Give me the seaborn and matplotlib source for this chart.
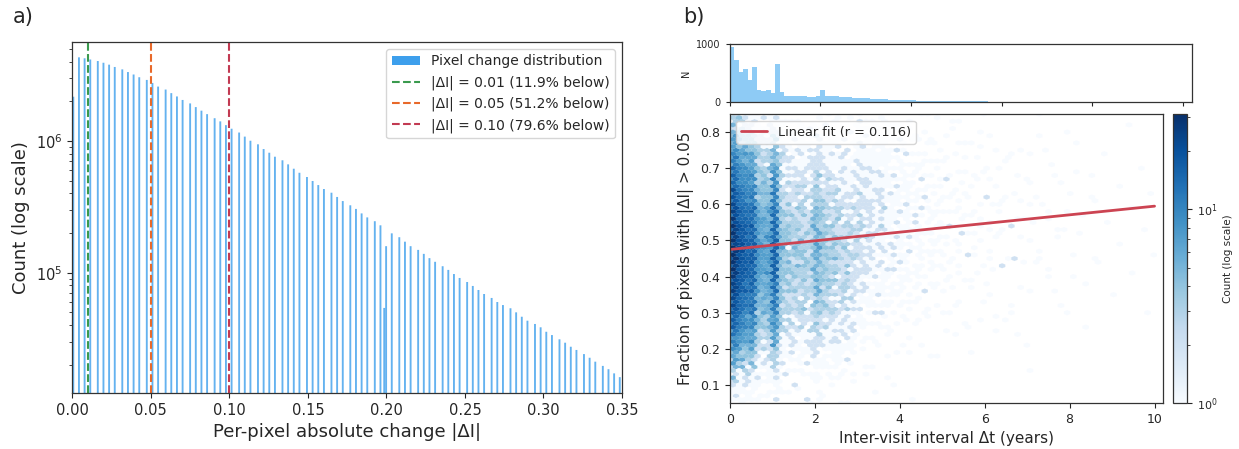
import numpy as np
import pandas as pd
import matplotlib
matplotlib.use("Agg")
import matplotlib.pyplot as plt
from matplotlib.lines import Line2D
from matplotlib.patches import Patch
import seaborn as sns

# ---------------- Panel a data: counts per 8-bit change level ----------------
change_levels_8bit = list(range(90))          # |ΔI| * 255
change_counts = [
    2.17e6, 4.32e6, 4.25e6, 4.16e6, 4.05e6, 3.93e6, 3.80e6, 3.65e6, 3.50e6, 3.34e6,
    3.20e6, 3.05e6, 2.91e6, 2.76e6, 2.59e6, 2.46e6, 2.31e6, 2.18e6, 2.05e6, 1.93e6,
    1.81e6, 1.70e6, 1.60e6, 1.49e6, 1.41e6, 1.32e6, 1.24e6, 1.16e6, 1.08e6, 1.005e6,
    9.44e5, 8.69e5, 8.15e5, 7.60e5, 7.14e5, 6.65e5, 6.16e5, 5.74e5, 5.33e5, 4.97e5,
    4.63e5, 4.32e5, 4.05e5, 3.76e5, 3.50e5, 3.25e5, 3.05e5, 2.82e5, 2.63e5, 2.46e5,
    2.29e5, 1.59e5, 1.99e5, 1.86e5, 1.72e5, 1.59e5, 1.49e5, 1.39e5, 1.29e5, 1.21e5,
    1.12e5, 1.05e5, 9.77e4, 9.12e4, 8.50e4, 7.93e4, 7.39e4, 6.89e4, 6.43e4, 5.99e4,
    5.68e4, 5.37e4, 5.00e4, 4.63e4, 4.32e4, 4.08e4, 3.85e4, 3.56e4, 3.36e4, 3.12e4,
    2.94e4, 2.74e4, 2.59e4, 2.41e4, 2.26e4, 2.11e4, 1.96e4, 1.85e4, 1.72e4, 1.61e4,
]
# part of the |ΔI| = 0.20 level that fell into the neighbouring histogram bin
split_values = [0.1985]
split_counts = [5.4e4]
hist_bin_width = 0.0012

thresholds = [0.01, 0.05, 0.10]
threshold_pct_below = [11.9, 51.2, 79.6]
threshold_colors = ["#3a9a4e", "#e8692a", "#c23a52"]

# ---------------- Panel b data ----------------
dt_bin_width = 0.1   # years
dt_counts = [
    950, 730, 520, 560, 380, 600, 200, 190, 200, 160,
    650, 170, 110, 110, 95, 100, 100, 90, 85, 95,
    200, 110, 100, 95, 90, 85, 80, 75, 70, 65,
    60, 55, 50, 45, 42, 40, 36, 33, 30, 28,
    25, 23, 21, 20, 18, 17, 15, 14, 13, 12,
    11, 10, 10, 9, 9, 8, 8, 7, 7, 7,
    6, 6, 6, 5, 5, 5, 5, 4, 4, 4,
    4, 4, 3, 3, 3, 3, 3, 3, 2, 2,
    2, 2, 2, 2, 2, 2, 1, 1, 1, 1,
    1, 1, 1, 1, 1, 1, 1, 1, 1, 1,
    1, 0,
]
frac_bin_edges = [0.05, 0.10, 0.15, 0.20, 0.25, 0.30, 0.35, 0.40, 0.45,
                  0.50, 0.55, 0.60, 0.65, 0.70, 0.75, 0.80, 0.85]
frac_share_short = [0.005, 0.012, 0.025, 0.045, 0.065, 0.085, 0.100, 0.115,
                    0.120, 0.110, 0.095, 0.075, 0.060, 0.045, 0.030, 0.013]
frac_share_long = [0.002, 0.004, 0.010, 0.020, 0.035, 0.050, 0.070, 0.090,
                   0.105, 0.120, 0.120, 0.110, 0.095, 0.075, 0.055, 0.039]
long_interval_start = 3.0
fit_slope, fit_intercept, fit_r = 0.012, 0.475, 0.116
fit_dt_range = [0.0, 10.0]
dt_axis_max = 10.2

# ---------------- style ----------------
sns.set_style("ticks")
plt.rcParams["font.family"] = ["DejaVu Sans"]
plt.rcParams["axes.linewidth"] = 0.9
plt.rcParams["axes.edgecolor"] = "#333333"

fig = plt.figure(figsize=(12.39, 4.49), dpi=100)

# ================= Panel a =================
ax_a = fig.add_axes([0.0584, 0.1247, 0.4436, 0.7818])
levels = np.array(change_levels_8bit) / 255.0
df_a = pd.DataFrame({
    "change": np.concatenate([levels, split_values]),
    "count": np.concatenate([change_counts, split_counts]),
})
bins = list(np.arange(0, 0.352, hist_bin_width))
bar_color = "#3d9fec"
sns.histplot(data=df_a, x="change", weights="count", bins=bins, color=bar_color,
             alpha=0.8, linewidth=0, edgecolor="none", snap=False, ax=ax_a)
ax_a.set_yscale("log")
ax_a.set_ylim(1.22e4, 5.65e6)
ax_a.set_xlim(0, 0.35)
ax_a.set_xticks(np.arange(0, 0.351, 0.05))
ax_a.set_xticklabels([f"{t:.2f}" for t in np.arange(0, 0.351, 0.05)])
for t, c in zip(thresholds, threshold_colors):
    ax_a.axvline(t, color=c, ls="--", lw=1.5)
ax_a.tick_params(axis="both", labelsize=10.5)
ax_a.set_xlabel("Per-pixel absolute change |ΔI|", fontsize=13)
ax_a.set_ylabel("Count (log scale)", fontsize=13)
handles = [Patch(facecolor=bar_color, edgecolor="none", label="Pixel change distribution")]
for t, p, c in zip(thresholds, threshold_pct_below, threshold_colors):
    handles.append(Line2D([0], [0], color=c, ls="--", lw=1.5,
                          label=f"|ΔI| = {t:.2f} ({p:.1f}% below)"))
ax_a.legend(handles=handles, loc="upper right", fontsize=10, frameon=True)

# ================= Panel b =================
golden = (np.sqrt(5) - 1) / 2
edges_y = np.array(frac_bin_edges)
xs, ys = [], []
for i, n in enumerate(dt_counts):
    if n == 0:
        continue
    left = i * dt_bin_width
    share = np.array(frac_share_short if left < long_interval_start else frac_share_long)
    cdf = np.concatenate([[0.0], np.cumsum(share)])
    cdf /= cdf[-1]
    j = np.arange(n)
    q = ((j + 0.5) / n + i * golden) % 1.0
    ys.append(np.interp(q, cdf, edges_y))
    xs.append(left + dt_bin_width * (((j + 0.5) * golden) % 1.0))
df_b = pd.DataFrame({"dt": np.concatenate(xs), "frac": np.concatenate(ys)})

ax_top = fig.add_axes([0.589, 0.773, 0.373, 0.129])
dt_edges = list(np.arange(0, dt_axis_max + 1e-9, dt_bin_width))
sns.histplot(data=df_b, x="dt", bins=dt_edges, color="#8ecbf5", alpha=1.0,
             linewidth=0, edgecolor="none", ax=ax_top)
ax_top.set_xlim(0, dt_axis_max)
ax_top.set_ylim(0, 1000)
ax_top.set_yticks([0, 1000])
ax_top.set_xticks(np.arange(0, 10.1, 2))
ax_top.tick_params(axis="x", labelbottom=False, length=3)
ax_top.tick_params(axis="y", labelsize=7, length=3)
ax_top.set_ylabel("N", fontsize=7)
ax_top.set_xlabel("")

ax_hex = fig.add_axes([0.589, 0.1024, 0.3497, 0.6436])
cax = fig.add_axes([0.9467, 0.1024, 0.0113, 0.6436])
hb = ax_hex.hexbin(df_b["dt"], df_b["frac"], gridsize=70,
                   extent=(0, dt_axis_max, frac_bin_edges[0], frac_bin_edges[-1]),
                   bins="log", mincnt=1, cmap="Blues", linewidths=0.1)
fx = np.array(fit_dt_range)
ax_hex.plot(fx, fit_slope * fx + fit_intercept, color="#cc4452", lw=2,
            label=f"Linear fit (r = {fit_r:.3f})")
ax_hex.set_xlim(0, dt_axis_max)
ax_hex.set_ylim(0.05, 0.85)
ax_hex.set_xticks(np.arange(0, 10.1, 2))
ax_hex.tick_params(axis="both", labelsize=9)
ax_hex.set_xlabel("Inter-visit interval Δt (years)", fontsize=11)
ax_hex.set_ylabel("Fraction of pixels with |ΔI| > 0.05", fontsize=11)
ax_hex.legend(loc="upper left", fontsize=9.3)

cb = fig.colorbar(hb, cax=cax)
cb.set_label("Count (log scale)", fontsize=7.5)
cb.ax.tick_params(labelsize=8)

fig.text(0.010, 0.962, "a)", fontsize=15, va="center", ha="left")
fig.text(0.551, 0.962, "b)", fontsize=15, va="center", ha="left")

fig.savefig("out.png", dpi=100)
